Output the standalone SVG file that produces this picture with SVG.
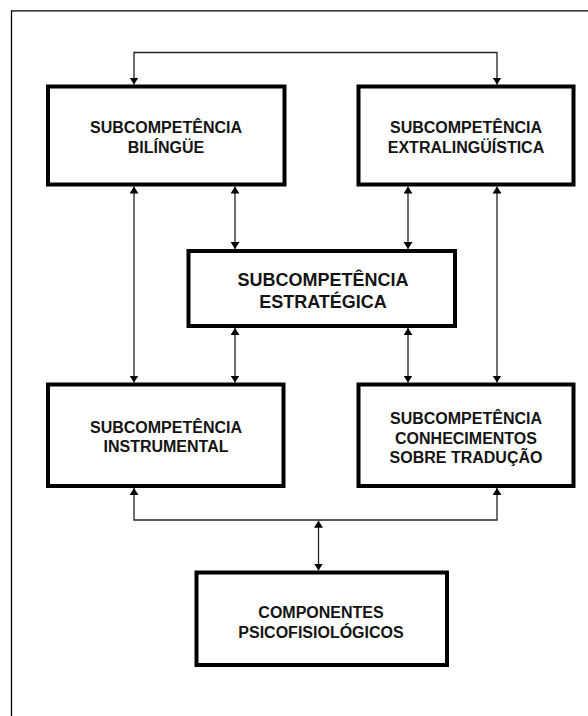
<svg xmlns="http://www.w3.org/2000/svg" width="588" height="716" viewBox="0 0 588 716">
<style>
.box{fill:#fff;stroke:#000;stroke-width:4}
.t{font-family:"Liberation Sans",Arial,Helvetica,sans-serif;font-weight:bold;font-size:16px;fill:#141414;text-anchor:middle}
.big{font-size:18px}
.c{fill:none;stroke:#222;stroke-width:1.3}
.frame{fill:none;stroke:#000;stroke-width:1.3}
</style>
<defs>
<marker id="ah" viewBox="0 0 7 9" refX="7" refY="4.5" markerWidth="7" markerHeight="9" markerUnits="userSpaceOnUse" orient="auto-start-reverse">
<path d="M0,0 L7,4.5 L0,9 z" fill="#000"/>
</marker>
</defs>
<rect width="588" height="716" fill="#fff"/>
<path class="frame" d="M11.5,716 V10.8 H588"/>
<g id="connectors">
<path class="c" d="M134,84.5 V52.5 H497 V84.5" marker-start="url(#ah)" marker-end="url(#ah)"/>
<path class="c" d="M134,186.5 V382.5" marker-start="url(#ah)" marker-end="url(#ah)"/>
<path class="c" d="M235,186.5 V249" marker-start="url(#ah)" marker-end="url(#ah)"/>
<path class="c" d="M408,186.5 V249" marker-start="url(#ah)" marker-end="url(#ah)"/>
<path class="c" d="M497,186.5 V382.5" marker-start="url(#ah)" marker-end="url(#ah)"/>
<path class="c" d="M235,328 V382.5" marker-start="url(#ah)" marker-end="url(#ah)"/>
<path class="c" d="M408,328 V382.5" marker-start="url(#ah)" marker-end="url(#ah)"/>
<path class="c" d="M134,488 V520 H497 V488" marker-start="url(#ah)" marker-end="url(#ah)"/>
<path class="c" d="M318.5,520.7 V570.5" marker-start="url(#ah)" marker-end="url(#ah)"/>
</g>
<g id="bilingue">
<rect class="box" x="48" y="86.5" width="236.5" height="98"/>
<text class="t" x="166" y="133.3">SUBCOMPETÊNCIA</text>
<text class="t" x="166" y="153.3">BILÍNGÜE</text>
</g>
<g id="extralinguistica">
<rect class="box" x="358.5" y="86.5" width="215" height="98"/>
<text class="t" x="466" y="133.3">SUBCOMPETÊNCIA</text>
<text class="t" x="466" y="153.3">EXTRALINGÜÍSTICA</text>
</g>
<g id="estrategica">
<rect class="box" x="188.5" y="251" width="266.5" height="75"/>
<text class="t big" x="323" y="286">SUBCOMPETÊNCIA</text>
<text class="t big" x="323" y="308">ESTRATÉGICA</text>
</g>
<g id="instrumental">
<rect class="box" x="48" y="384.5" width="235.5" height="101.5"/>
<text class="t" x="166" y="432.7">SUBCOMPETÊNCIA</text>
<text class="t" x="166" y="452.3">INSTRUMENTAL</text>
</g>
<g id="conhecimentos">
<rect class="box" x="358.5" y="384.5" width="215" height="101.5"/>
<text class="t" x="466" y="424">SUBCOMPETÊNCIA</text>
<text class="t" x="466" y="443.5">CONHECIMENTOS</text>
<text class="t" x="466" y="463">SOBRE TRADUÇÃO</text>
</g>
<g id="componentes">
<rect class="box" x="196.5" y="572.5" width="250.5" height="92.5"/>
<text class="t" x="321" y="618.3">COMPONENTES</text>
<text class="t" x="321" y="637.7">PSICOFISIOLÓGICOS</text>
</g>
</svg>
